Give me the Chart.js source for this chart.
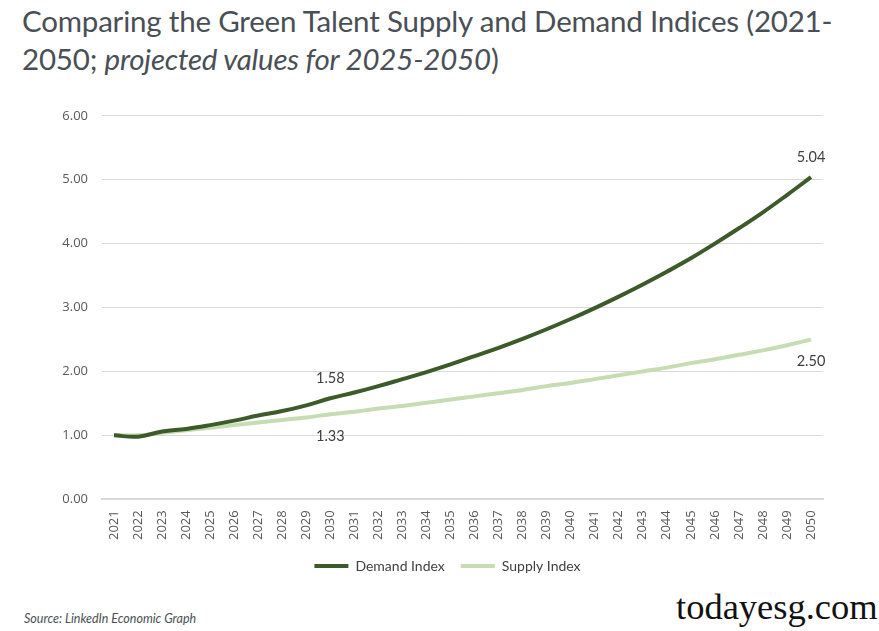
<!DOCTYPE html>
<html>
<head>
<meta charset="utf-8">
<script src="https://cdn.jsdelivr.net/npm/chart.js@4"></script>
<style>
  html, body { margin: 0; padding: 0; background: #fff; }
  body { width: 879px; height: 631px; position: relative; overflow: hidden; font-family: Lato, 'Noto Sans', sans-serif; }
  .title { position: absolute; left: 22px; top: 2px; width: 820px; font-size: 29.5px; line-height: 38px; color: #4a4f56; letter-spacing: -0.2px; }
  .title i { font-style: italic; }
  .source { position: absolute; left: 24px; top: 611px; font-size: 12.5px; font-style: italic; color: #4a4f56; }
  .mark { position: absolute; left: 676px; top: 585px; font-family: 'Liberation Serif', serif; font-size: 36.5px; color: #111; }
  .wrap { position: absolute; left: 0; top: 94px; width: 879px; height: 489px; }
</style>
</head>
<body>
<div class="title">Comparing the Green Talent Supply and Demand Indices (2021-2050; <i>projected values for 2025-2050</i>)</div>
<div class="wrap"><canvas id="chart"></canvas></div>
<div class="source">Source: LinkedIn Economic Graph</div>
<div class="mark">todayesg.com</div>
<script>
const years = ['2021','2022','2023','2024','2025','2026','2027','2028','2029','2030',
  '2031','2032','2033','2034','2035','2036','2037','2038','2039','2040',
  '2041','2042','2043','2044','2045','2046','2047','2048','2049','2050'];

const demandIndex = [1.00, 0.98, 1.06, 1.10, 1.16, 1.23, 1.31, 1.38, 1.47, 1.58,
  1.67, 1.77, 1.88, 1.99, 2.11, 2.24, 2.37, 2.51, 2.66, 2.82,
  2.99, 3.17, 3.36, 3.56, 3.77, 4.00, 4.24, 4.49, 4.76, 5.04];

const supplyIndex = [1.00, 1.00, 1.04, 1.08, 1.12, 1.16, 1.20, 1.24, 1.28, 1.33,
  1.37, 1.42, 1.46, 1.51, 1.56, 1.61, 1.66, 1.71, 1.77, 1.82,
  1.88, 1.94, 2.00, 2.06, 2.13, 2.19, 2.26, 2.33, 2.41, 2.50];

// which points get a value label, and on which side
const demandLabels = { 9: 'above', 29: 'above' };
const supplyLabels = { 9: 'below', 29: 'below' };

const pointLabels = {
  id: 'pointLabels',
  afterDatasetsDraw(chart) {
    const ctx = chart.ctx;
    ctx.save();
    ctx.font = '14.5px Lato, "Noto Sans", sans-serif';
    ctx.fillStyle = '#404040';
    ctx.textAlign = 'center';
    ctx.textBaseline = 'middle';
    [demandLabels, supplyLabels].forEach((labels, di) => {
      const meta = chart.getDatasetMeta(di);
      const values = chart.data.datasets[di].data;
      Object.keys(labels).forEach(i => {
        const pt = meta.data[i];
        const dy = labels[i] === 'above' ? -20 : 22;
        ctx.fillText(values[i].toFixed(2), pt.x, pt.y + dy);
      });
    });
    ctx.restore();
  }
};

// legend in the original sits a bit right of the canvas centre
const shiftLegend = {
  id: 'shiftLegend',
  afterLayout(chart) {
    chart.legend.left += 36;
    chart.legend.right += 36;
  }
};

new Chart(document.getElementById('chart'), {
  type: 'line',
  data: {
    labels: years,
    datasets: [
      {
        label: 'Demand Index',
        data: demandIndex,
        borderColor: '#3d5a2a',
        backgroundColor: '#3d5a2a',
        borderWidth: 4,
        pointRadius: 0,
        tension: 0.4
      },
      {
        label: 'Supply Index',
        data: supplyIndex,
        borderColor: '#c6ddb3',
        backgroundColor: '#c6ddb3',
        borderWidth: 4,
        pointRadius: 0,
        tension: 0.4
      }
    ]
  },
  options: {
    responsive: true,
    maintainAspectRatio: false,
    animation: false,
    layout: { padding: { top: 2, right: 56, left: 0, bottom: 0 } },
    plugins: {
      tooltip: { enabled: false },
      legend: {
        position: 'bottom',
        labels: {
          boxWidth: 34,
          boxHeight: 0,
          padding: 16,
          color: '#404040',
          font: { size: 14, family: 'Lato, "Noto Sans", sans-serif' }
        }
      }
    },
    scales: {
      x: {
        offset: true,
        grid: { display: false },
        border: { color: '#d9d9d9', width: 2 },
        ticks: {
          minRotation: 90,
          maxRotation: 90,
          autoSkip: false,
          color: '#595959',
          font: { size: 13, family: '"Open Sans", sans-serif' }
        }
      },
      y: {
        min: 0,
        max: 6,
        afterFit(scale) { scale.width = 102; },
        grid: { color: '#d9d9d9', drawTicks: false },
        border: { display: false },
        ticks: {
          stepSize: 1,
          padding: 14,
          color: '#595959',
          font: { size: 13, family: '"Open Sans", sans-serif' },
          callback: v => v.toFixed(2)
        }
      }
    }
  },
  plugins: [pointLabels, shiftLegend]
});
</script>
</body>
</html>
